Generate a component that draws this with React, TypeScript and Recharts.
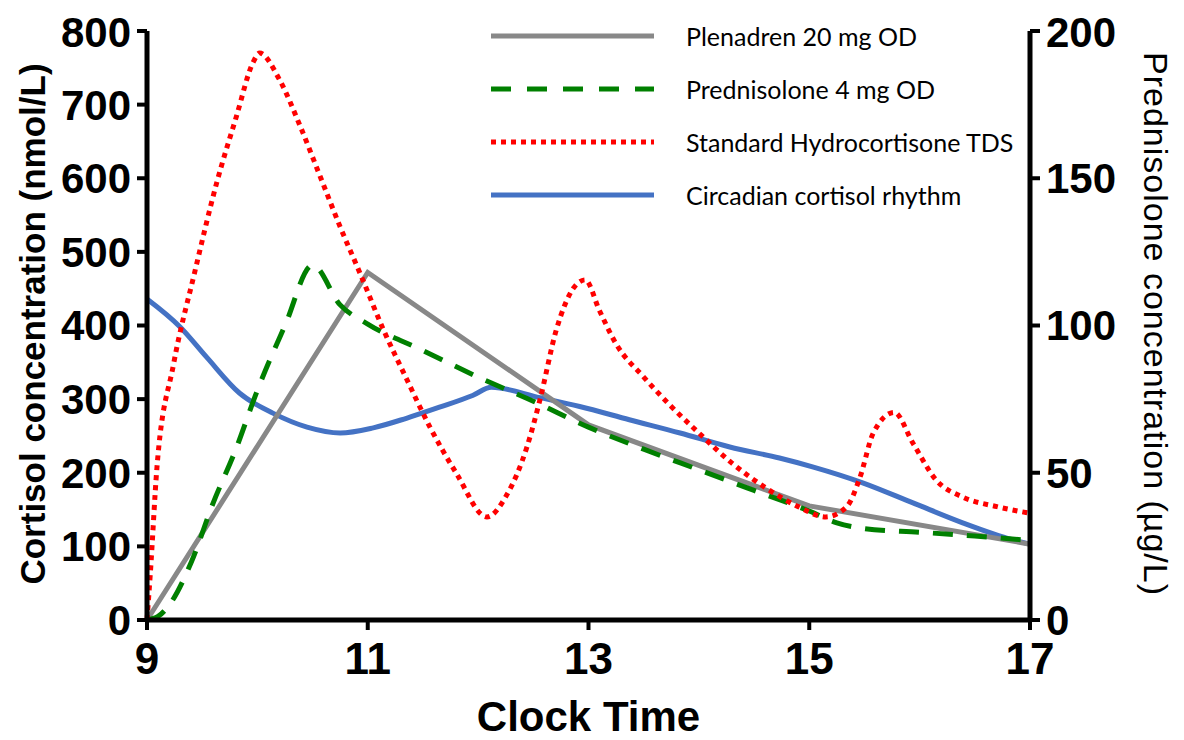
import React from 'react';
import { LineChart, Line, XAxis, YAxis, Legend } from 'recharts';

// Clock time (h) and values
const plenadrenTime = [9, 11, 13, 15, 17];
const plenadrenCortisol = [0, 472, 265, 155, 103];

const prednisoloneTime = [9, 9.1, 9.2, 9.4, 9.6, 9.8, 10, 10.25, 10.5, 10.75, 11, 11.5, 12, 12.5, 13, 13.5, 14, 14.5, 15, 15.25, 15.5, 16, 16.5, 17];
const prednisoloneConc = [0, 1.2, 5, 19.5, 39.8, 57.5, 78, 100, 120.5, 107, 100.5, 91.5, 82.5, 74.3, 65.5, 58, 51, 44, 37, 33, 31, 29.8, 28.5, 27];

const hydrocortisoneTime = [9, 9.03, 9.09, 9.24, 9.43, 9.63, 9.81, 9.96, 10.02, 10.2, 10.39, 10.57, 10.75, 10.93, 11.14, 11.35, 11.56, 11.8, 12.08, 12.26, 12.44, 12.56, 12.71, 12.86, 12.97, 13.1, 13.25, 13.5, 13.75, 14, 14.3, 14.6, 14.9, 15.15, 15.34, 15.46, 15.58, 15.77, 15.94, 16.15, 16.39, 16.7, 17];
const hydrocortisoneCortisol = [0, 63, 207, 347, 471, 593, 684, 757, 770, 734, 670, 602, 534, 471, 395, 328, 263, 200, 140, 170, 234, 299, 395, 450, 462, 420, 375, 330, 290, 254, 213, 180, 154, 140, 154, 194, 254, 282, 240, 190, 167, 154, 145];

const circadianTime = [9, 9.3, 9.54, 9.84, 10.14, 10.45, 10.75, 11.05, 11.35, 11.65, 11.95, 12.12, 12.56, 12.92, 13.37, 13.83, 14.28, 14.73, 15.03, 15.49, 15.94, 16.39, 16.84, 17];
const circadianCortisol = [436, 398, 357, 308, 281, 262, 254, 261, 274, 289, 305, 316, 302, 290, 272, 254, 235, 220, 208, 186, 159, 132, 109, 103];

const xTicks = [9, 11, 13, 15, 17];
const leftTicks = [0, 100, 200, 300, 400, 500, 600, 700, 800];
const rightTicks = [0, 50, 100, 150, 200];

const legendItems = [
    { name: 'Plenadren 20 mg OD', color: '#888888', dash: undefined },
    { name: 'Prednisolone 4 mg OD', color: '#008000', dash: '20 16' },
    { name: 'Standard Hydrocortisone TDS', color: '#ff0000', dash: '5 5' },
    { name: 'Circadian cortisol rhythm', color: '#4472c4', dash: undefined },
];

const toPoints = (t: number[], v: number[]) => t.map((x, i) => ({ t: x, v: v[i] }));

const plenadrenData = toPoints(plenadrenTime, plenadrenCortisol);
const prednisoloneData = toPoints(prednisoloneTime, prednisoloneConc);
const hydrocortisoneData = toPoints(hydrocortisoneTime, hydrocortisoneCortisol);
const circadianData = toPoints(circadianTime, circadianCortisol);

const yTickFont = { fontFamily: 'Liberation Sans', fontWeight: 'bold', fontSize: 42, fill: '#000' };
const xTickFont = { fontFamily: "'Liberation Sans Narrow', 'Liberation Sans'", fontWeight: 'bold', fontSize: 44, fill: '#000' };

const CustomLegend = () => (
    <div style={{ fontFamily: 'Lato', fontSize: 25, color: '#000' }}>
        {legendItems.map((item) => (
            <div key={item.name} style={{ display: 'flex', alignItems: 'center', height: 53 }}>
                <svg width={163} height={10} style={{ marginRight: 32 }}>
                    <line x1={0} y1={5} x2={163} y2={5} stroke={item.color} strokeWidth={5} strokeDasharray={item.dash} />
                </svg>
                <span>{item.name}</span>
            </div>
        ))}
    </div>
);

const App = () => {
    return (
        <LineChart width={1168} height={732} margin={{ top: 23, right: 0, bottom: 0, left: 0 }}>
            <XAxis
                type="number"
                dataKey="t"
                domain={[9, 17]}
                ticks={xTicks}
                height={120}
                allowDuplicatedCategory={false}
                axisLine={{ stroke: '#000', strokeWidth: 5 }}
                tickLine={{ stroke: '#000', strokeWidth: 4 }}
                tickSize={10}
                tickMargin={13}
                tick={xTickFont}
                label={(props: any) => {
                    const vb = props.viewBox;
                    return (
                        <text x={vb.x + vb.width / 2} y={vb.y + 111} textAnchor="middle"
                            style={{ fontFamily: 'Liberation Sans', fontWeight: 'bold', fontSize: 42 }}>
                            Clock Time
                        </text>
                    );
                }}
            />
            <YAxis
                yAxisId="left"
                domain={[0, 800]}
                ticks={leftTicks}
                width={139}
                axisLine={{ stroke: '#000', strokeWidth: 5 }}
                tickLine={{ stroke: '#000', strokeWidth: 4 }}
                tickSize={10}
                tickMargin={6}
                tick={yTickFont}
                label={(props: any) => {
                    const vb = props.viewBox;
                    return (
                        <text x={0} y={0} textAnchor="middle" transform={`translate(${vb.x + 37}, 316) rotate(-90)`}
                            style={{ fontFamily: 'Liberation Sans', fontWeight: 'bold', fontSize: 35 }}>
                            Cortisol concentration (nmol/L)
                        </text>
                    );
                }}
            />
            <YAxis
                yAxisId="right"
                orientation="right"
                domain={[0, 200]}
                ticks={rightTicks}
                width={146}
                axisLine={{ stroke: '#000', strokeWidth: 5 }}
                tickLine={{ stroke: '#000', strokeWidth: 4 }}
                tickSize={10}
                tickMargin={6}
                tick={yTickFont}
                label={(props: any) => {
                    const vb = props.viewBox;
                    return (
                        <text x={0} y={0} textAnchor="middle" transform={`translate(${vb.x + 114}, 316) rotate(90)`}
                            style={{ fontFamily: 'Liberation Sans', fontSize: 34, letterSpacing: 1 }}>
                            Prednisolone concentration (µg/L)
                        </text>
                    );
                }}
            />
            <Legend content={<CustomLegend />} layout="vertical" align="center" verticalAlign="middle"
                wrapperStyle={{ top: 1, left: 483, width: 560 }} />
            <Line yAxisId="left" data={circadianData} dataKey="v" name="Circadian cortisol rhythm" type="monotone"
                stroke="#4472c4" strokeWidth={5} dot={false} isAnimationActive={false} />
            <Line yAxisId="left" data={plenadrenData} dataKey="v" name="Plenadren 20 mg OD" type="linear"
                stroke="#888888" strokeWidth={5} dot={false} isAnimationActive={false} />
            <Line yAxisId="right" data={prednisoloneData} dataKey="v" name="Prednisolone 4 mg OD" type="monotone"
                stroke="#008000" strokeWidth={5} strokeDasharray="20 14" dot={false} isAnimationActive={false} />
            <Line yAxisId="left" data={hydrocortisoneData} dataKey="v" name="Standard Hydrocortisone TDS" type="monotone"
                stroke="#ff0000" strokeWidth={5} strokeDasharray="5 5" dot={false} isAnimationActive={false} />
        </LineChart>
    );
};

export default App;
